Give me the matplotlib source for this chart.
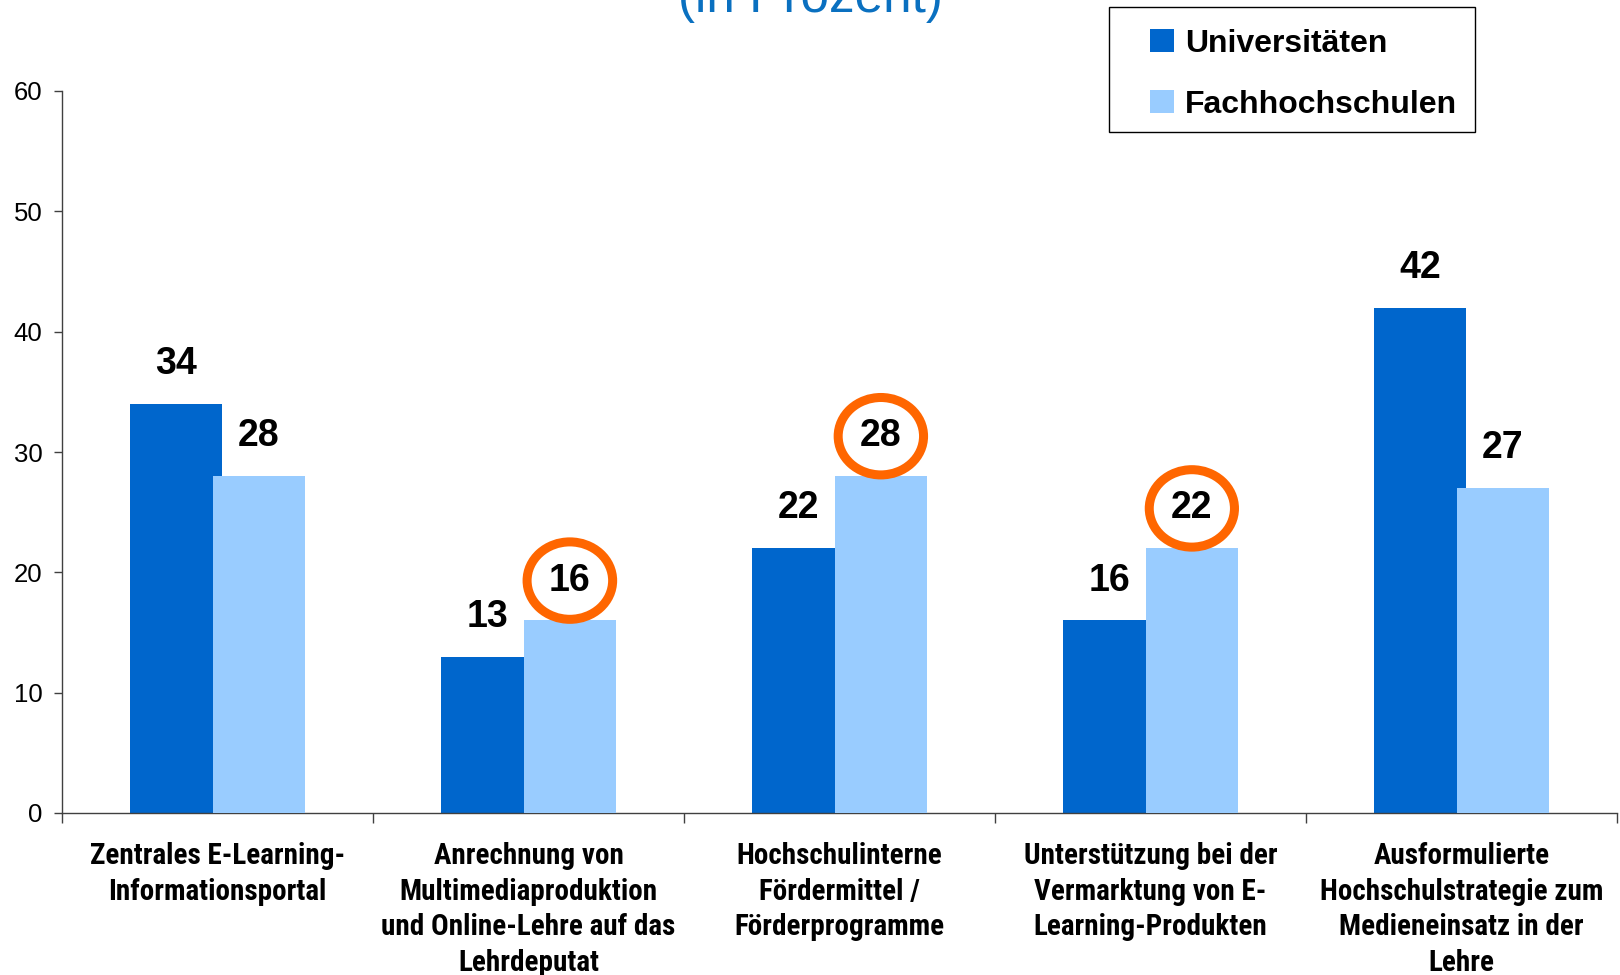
import matplotlib
matplotlib.use("Agg")
import matplotlib.pyplot as plt
from matplotlib.patches import Rectangle
import numpy as np

categories = [
    "Zentrales E-Learning-\nInformationsportal",
    "Anrechnung von\nMultimediaproduktion\nund Online-Lehre auf das\nLehrdeputat",
    "Hochschulinterne\nFördermittel /\nFörderprogramme",
    "Unterstützung bei der\nVermarktung von E-\nLearning-Produkten",
    "Ausformulierte\nHochschulstrategie zum\nMedieneinsatz in der\nLehre",
]
universitaeten = [34, 13, 22, 16, 42]
fachhochschulen = [28, 16, 28, 22, 27]
circled_fh = [1, 2, 3]  # Fachhochschulen labels marked with an orange circle
series_names = ["Universitäten", "Fachhochschulen"]
y_ticks = [0, 10, 20, 30, 40, 50, 60]
title = "(in Prozent)"

C_UNI = "#0066CC"
C_FH = "#99CCFF"
C_MARK = "#FF6600"
C_TITLE = "#0A70C0"
SANS = ["Liberation Sans", "DejaVu Sans"]
NARROW = ["Roboto Condensed", "Liberation Sans", "DejaVu Sans"]

W, H = 1620, 975
fig = plt.figure(figsize=(W / 100, H / 100), dpi=100)
ax = fig.add_axes([62 / W, 1 - 813 / H, (1617 - 62) / W, (813 - 91) / H])

x = np.arange(len(categories))
bw = 0.296
off = 0.133
ax.bar(x - off, universitaeten, bw, color=C_UNI, zorder=2, label=series_names[0])
ax.bar(x + off, fachhochschulen, bw, color=C_FH, zorder=3, label=series_names[1])

for i, v in enumerate(universitaeten):
    ax.annotate(str(v), (x[i] - off, v), xytext=(0, 21.5), textcoords="offset points",
                ha="center", va="baseline", fontsize=27, fontweight="bold",
                family=SANS, color="black", zorder=5)
for i, v in enumerate(fachhochschulen):
    kw = {}
    if i in circled_fh:
        kw["bbox"] = dict(boxstyle="ellipse,pad=0.25", fc="none", ec=C_MARK, lw=6.5)
    ax.annotate(str(v), (x[i] + off, v), xytext=(0, 21.5), textcoords="offset points",
                ha="center", va="baseline", fontsize=27, fontweight="bold",
                family=SANS, color="black", zorder=5, **kw)

ax.set_xlim(-0.5, len(categories) - 0.5)
ax.set_ylim(0, 60)
ax.set_yticks(y_ticks)
ax.set_yticklabels([str(t) for t in y_ticks], fontsize=18.5, family=SANS)
ax.tick_params(axis="y", direction="out", length=6, width=1, color="#404040", pad=8)

ax.set_xticks(x)
ax.set_xticklabels(categories, fontsize=21, fontweight="bold", family=NARROW,
                   linespacing=1.34, va="top")
ax.tick_params(axis="x", which="major", length=0, pad=21)
ax.set_xticks(np.arange(-0.5, len(categories), 1.0), minor=True)
ax.tick_params(axis="x", which="minor", direction="out", length=7, width=1, color="#404040")

for s in ["top", "right"]:
    ax.spines[s].set_visible(False)
for s in ["left", "bottom"]:
    ax.spines[s].set_color("#404040")
    ax.spines[s].set_linewidth(1)

# Title (partly cut off at the top edge, as in the reference)
fig.text(810 / W, 1 - 12 / H, title, ha="center", va="baseline", fontsize=37,
         color=C_TITLE, family=SANS)

# Legend box
def fx(px):
    return px / W

def fy(py):
    return 1 - py / H

fig.patches.append(Rectangle((fx(1109), fy(132)), fx(1475) - fx(1109), fy(7) - fy(132),
                             transform=fig.transFigure, fill=False, ec="black", lw=1))
rows = [(52, C_UNI), (113, C_FH)]
for (base, col), name in zip(rows, series_names):
    fig.patches.append(Rectangle((fx(1150), fy(base)), fx(1174) - fx(1150), fy(base - 23) - fy(base),
                                 transform=fig.transFigure, color=col, lw=0))
    fig.text(fx(1185), fy(base), name, ha="left", va="baseline", fontsize=23,
             fontweight="bold", family=SANS, color="black")

fig.savefig("out.png", dpi=100)
